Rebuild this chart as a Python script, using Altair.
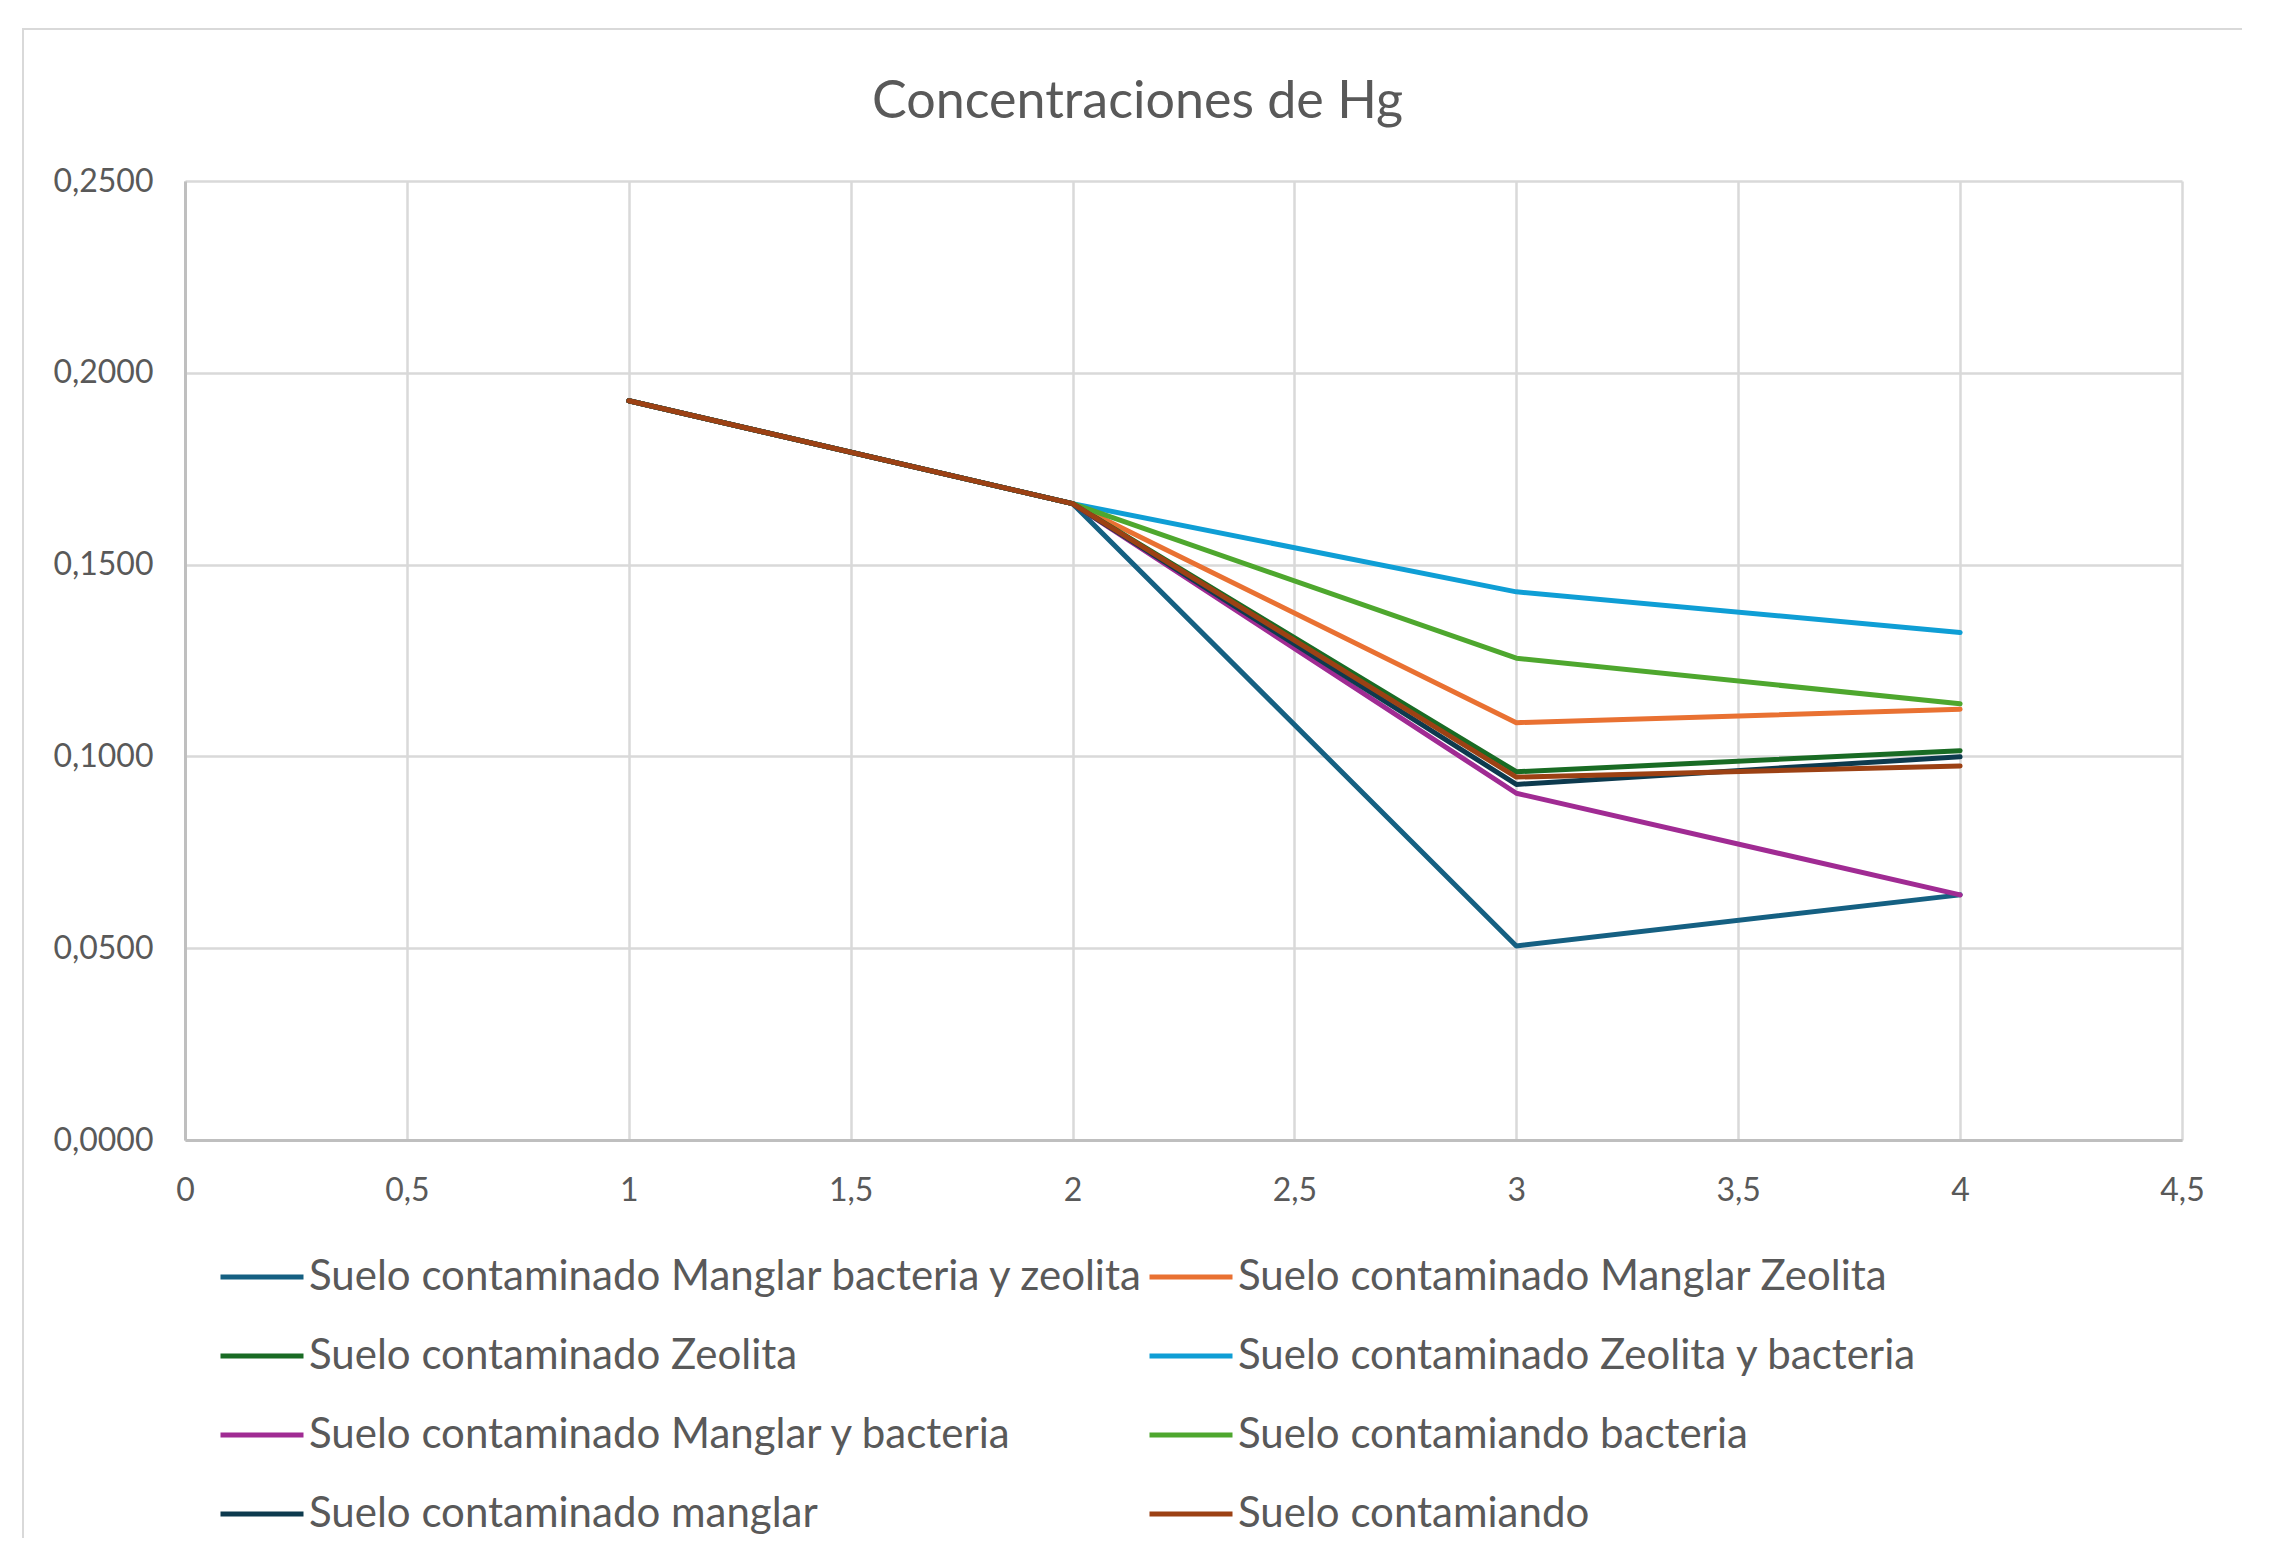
import altair as alt
import pandas as pd

x_values = [1, 2, 3, 4]
series_names = [
    "Suelo contaminado Manglar bacteria y zeolita",
    "Suelo contaminado Manglar Zeolita",
    "Suelo contaminado Zeolita",
    "Suelo contaminado Zeolita y bacteria",
    "Suelo contaminado Manglar y bacteria",
    "Suelo contamiando bacteria",
    "Suelo contaminado manglar",
    "Suelo contamiando",
]
manglar_bacteria_zeolita = [0.1927, 0.1659, 0.0506, 0.0639]
manglar_zeolita = [0.1927, 0.1659, 0.1088, 0.1123]
zeolita = [0.1927, 0.1659, 0.0960, 0.1015]
zeolita_bacteria = [0.1927, 0.1659, 0.1429, 0.1323]
manglar_bacteria = [0.1927, 0.1659, 0.0904, 0.0639]
bacteria = [0.1927, 0.1659, 0.1256, 0.1137]
manglar = [0.1927, 0.1659, 0.0927, 0.0999]
contaminado = [0.1927, 0.1659, 0.0946, 0.0975]
series_values = [manglar_bacteria_zeolita, manglar_zeolita, zeolita, zeolita_bacteria,
                 manglar_bacteria, bacteria, manglar, contaminado]
colors = ["#156082", "#E97132", "#196B24", "#0F9ED5", "#A02B93", "#4EA72E", "#0D3A4E", "#9C4114"]

x_ticks = [0, 0.5, 1, 1.5, 2, 2.5, 3, 3.5, 4, 4.5]
y_ticks = [0, 0.05, 0.10, 0.15, 0.20, 0.25]

rows = []
for name, vals in zip(series_names, series_values):
    for xv, yv in zip(x_values, vals):
        rows.append({"serie": name, "x": xv, "y": yv})
df = pd.DataFrame(rows)

FONT = "Lato"
TXT = "#595959"

lines = alt.Chart(df).mark_line(strokeWidth=5, strokeCap="round", strokeJoin="round").encode(
    x=alt.X("x:Q", scale=alt.Scale(domain=[0, 4.5], nice=False),
            axis=alt.Axis(values=x_ticks, title=None, labelFlush=False, labelPadding=35,
                          labelExpr="replace(format(datum.value, '~g'), '.', ',')")),
    y=alt.Y("y:Q", scale=alt.Scale(domain=[0, 0.25], nice=False),
            axis=alt.Axis(values=y_ticks, title=None, labelPadding=32,
                          labelExpr="replace(format(datum.value, '.4f'), '.', ',')")),
    color=alt.Color("serie:N", scale=alt.Scale(domain=series_names, range=colors),
                    sort=series_names,
                    legend=alt.Legend(title=None, orient="none", legendX=33, legendY=1052,
                                      direction="horizontal",
                                      columns=2, columnPadding=-5, rowPadding=14,
                                      symbolType="stroke", symbolSize=6889, symbolStrokeWidth=5,
                                      labelOffset=3, labelFont=FONT, labelFontSize=42,
                                      labelColor=TXT, labelLimit=2000, gridAlign="all")),
    order=alt.Order("x:Q"),
)

frame = alt.Chart(pd.DataFrame({"a": [0]})).mark_rect(
    filled=False, stroke="#d9d9d9", strokeWidth=2
).encode(
    x=alt.value(-162), x2=alt.value(2067), y=alt.value(-152), y2=alt.value(1420)
)

chart = alt.layer(frame, lines).properties(
    width=1997, height=959,
    autosize=alt.AutoSizeParams(type="none"),
    padding={"left": 177, "top": 173, "right": 60, "bottom": 398},
    title=alt.TitleParams("Concentraciones  de Hg", font=FONT, fontSize=52, fontWeight="normal",
                          color=TXT, anchor="middle", frame="group", dx=-46, offset=-101),
).configure_view(stroke=None).configure_axis(
    labelFont=FONT, labelFontSize=32, labelColor=TXT,
    ticks=False, gridColor="#d9d9d9", gridWidth=2.5,
    domainColor="#bfbfbf", domainWidth=3,
)

chart.save("out.html", embed_options={"renderer": "svg", "actions": False})
